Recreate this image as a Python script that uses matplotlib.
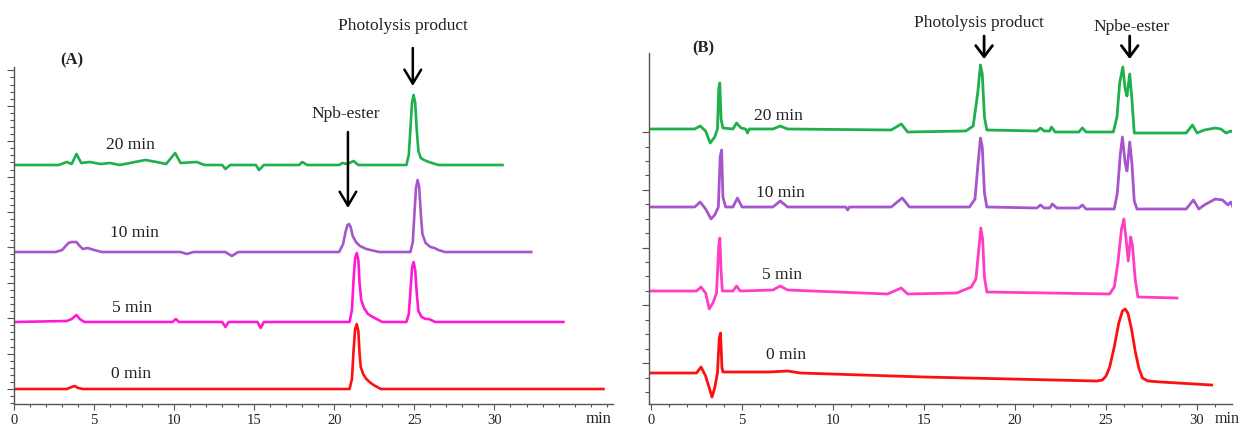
import numpy as np
import matplotlib
matplotlib.use('Agg')
import matplotlib.pyplot as plt
import matplotlib.ticker as mticker

plt.rcParams['font.family'] = ['Liberation Serif', 'DejaVu Serif']

# ---------------- panel A (Npb-ester) ----------------
a_labels = ['0 min', '5 min', '10 min', '20 min']
a_colors = ['#ff1010', '#ff1ad1', '#a656cc', '#1db04b']
a_offsets = [15, 82, 152, 239]

a0_time = [0, 3.3, 3.6, 3.8, 4.0, 4.3, 20.95, 21.1, 21.2, 21.3, 21.4, 21.5, 21.58, 21.65, 21.8,
           22.0, 22.2, 22.45, 22.9, 36.8]
a0_sig = [0, 0, 2, 3, 1, 0, 0, 10, 38, 60, 65, 58, 35, 22, 15, 10, 7, 4, 0, 0]

a5_time = [0, 3.3, 3.6, 3.9, 4.1, 4.4, 9.9, 10.1, 10.3, 13.0, 13.2, 13.4, 15.2, 15.4, 15.6,
           20.95, 21.1, 21.2, 21.3, 21.4, 21.5, 21.58, 21.68, 21.85, 22.1, 22.4, 23.0,
           24.5, 24.65, 24.75, 24.85, 24.95, 25.05, 25.15, 25.25, 25.45, 25.7, 25.9, 26.3, 34.3]
a5_sig = [0, 1, 3, 7, 3, 0, 0, 3, 0, 0, -5, 0, 0, -6, 0,
          0, 12, 42, 64, 69, 62, 38, 22, 14, 8, 5, 0,
          0, 8, 30, 54, 60, 52, 28, 11, 5, 3, 3, 0, 0]

a10_time = [0, 2.6, 3.0, 3.4, 3.6, 3.9, 4.1, 4.3, 4.6, 5.0, 5.5, 10.4, 10.8, 11.2, 13.2, 13.6, 14.0,
            20.3, 20.55, 20.7, 20.82, 20.92, 21.02, 21.15, 21.35, 21.6, 22.0, 22.8,
            24.75, 24.9, 25.0, 25.1, 25.2, 25.3, 25.4, 25.5, 25.7, 26.0, 26.25, 26.5, 26.9, 32.3]
a10_sig = [0, 0, 2, 9, 10, 10, 6, 3, 4, 2, 0, 0, -2, 0, 0, -4, 0,
           0, 8, 20, 27, 28, 25, 16, 10, 6, 3, 0,
           0, 10, 38, 64, 72, 65, 38, 18, 9, 5, 4, 2, 0, 0]

a20_time = [0, 2.8, 3.3, 3.6, 3.9, 4.2, 4.75, 5.4, 6.0, 6.6, 8.2, 8.9, 9.5, 10.06, 10.4, 11.4, 11.9,
            13.0, 13.2, 13.5, 15.1, 15.3, 15.6, 17.8, 18.0, 18.3, 20.3, 20.5, 20.8, 21.2, 21.5,
            24.5, 24.65, 24.75, 24.85, 24.95, 25.05, 25.15, 25.25, 25.4, 25.6, 25.9, 26.5, 30.5]
a20_sig = [0, 0, 3, 1, 11, 2, 3, 1, 2, 0, 5, 3, 1, 12, 2, 3, 0,
           0, -4, 0, 0, -5, 0, 0, 3, 0, 0, 2, 1, 4, 0,
           0, 10, 36, 62, 70, 62, 34, 14, 7, 5, 3, 0, 0]

# ---------------- panel B (Npbe-ester) ----------------
b_labels = ['0 min', '5 min', '10 min', '20 min']
b_colors = ['#ff1010', '#ff3cc4', '#a656cc', '#1db04b']
b_offsets = [31, 113, 197, 275]

b0_time = [0, 2.5, 2.75, 3.0, 3.2, 3.35, 3.5, 3.65, 3.75, 3.82, 3.9, 3.95, 4.3, 6.5, 7.5, 8.2, 15.0,
           24.5, 24.8, 25.0, 25.2, 25.45, 25.7, 25.9, 26.05, 26.2, 26.4, 26.6, 26.8, 27.0, 27.3, 28.0, 30.8]
b0_sig = [0, 0, 6, -3, -15, -24, -15, 0, 35, 40, 5, 1, 1, 1, 2, 0, -4,
          -8, -7, -3, 6, 26, 50, 62, 64, 60, 44, 22, 5, -5, -8, -9, -12]

b5_time = [0, 2.5, 2.75, 3.0, 3.2, 3.4, 3.6, 3.72, 3.78, 3.85, 3.92, 4.5, 4.7, 4.9, 6.7, 7.1, 7.5,
           13.0, 13.75, 14.1, 16.8, 17.6, 17.85, 18.0, 18.12, 18.22, 18.32, 18.45,
           25.2, 25.45, 25.65, 25.85, 25.98, 26.1, 26.22, 26.35, 26.45, 26.6, 26.75, 28.9]
b5_sig = [0, 0, 4, -2, -18, -12, -2, 45, 53, 20, 0, 0, 5, 0, 1, 5, 1,
          -3, 3, -3, -2, 4, 12, 40, 63, 52, 14, -1,
          -3, 4, 28, 62, 72, 52, 30, 54, 46, 12, -6, -7]

b10_time = [0, 2.4, 2.7, 3.0, 3.3, 3.5, 3.7, 3.8, 3.88, 3.95, 4.1, 4.5, 4.75, 5.0, 6.7, 7.1, 7.5,
            10.7, 10.8, 10.9, 13.2, 13.8, 14.2, 17.5, 17.8, 17.95, 18.1, 18.2, 18.32, 18.45,
            21.2, 21.4, 21.6, 21.9, 22.05, 22.3, 23.5, 23.7, 23.9,
            25.45, 25.62, 25.78, 25.9, 26.05, 26.15, 26.3, 26.42, 26.55, 26.7,
            29.4, 29.8, 30.1, 30.4, 31.0, 31.4, 31.7, 31.85, 32.1]
b10_sig = [0, 0, 5, -2, -12, -8, 0, 50, 57, 10, 0, 0, 9, 0, 0, 6, 0,
           0, -3, 0, 0, 9, 0, 0, 8, 40, 69, 60, 14, 0,
           -1, 2, -1, -1, 3, -1, -1, 2, -2,
           -2, 14, 52, 70, 44, 36, 65, 44, 6, -2,
           -2, 7, -2, 2, 8, 7, 2, 5, -5]

b20_time = [0, 2.4, 2.7, 3.0, 3.25, 3.5, 3.65, 3.72, 3.78, 3.85, 3.95, 4.5, 4.7, 4.95, 5.2, 5.3, 5.4,
            6.7, 7.1, 7.5, 13.2, 13.75, 14.1, 17.3, 17.7, 17.95, 18.1, 18.2, 18.32, 18.45,
            21.2, 21.4, 21.6, 21.9, 22.0, 22.2, 23.5, 23.7, 23.9,
            25.4, 25.6, 25.75, 25.92, 26.05, 26.15, 26.3, 26.42, 26.55,
            29.4, 29.75, 30.0, 30.4, 31.0, 31.3, 31.6, 31.85, 32.1]
b20_sig = [0, 0, 3, -2, -14, -8, 0, 40, 46, 10, 1, 0, 6, 1, 0, -4, 0,
           0, 3, 0, -1, 5, -3, -2, 3, 36, 64, 55, 12, -1,
           -2, 1, -2, -2, 2, -3, -3, 1, -3,
           -3, 12, 46, 62, 40, 33, 55, 30, -4,
           -4, 4, -4, -1, 1, 0, -4, -2, -4]

a_traces = [(a0_time, a0_sig), (a5_time, a5_sig), (a10_time, a10_sig), (a20_time, a20_sig)]
b_traces = [(b0_time, b0_sig), (b5_time, b5_sig), (b10_time, b10_sig), (b20_time, b20_sig)]


def style_axes(ax, ymax):
    ax.set_ylim(0, ymax)
    for s in ['top', 'right']:
        ax.spines[s].set_visible(False)
    for s in ['left', 'bottom']:
        ax.spines[s].set_color('#555555')
        ax.spines[s].set_linewidth(1.0)
    ax.tick_params(axis='x', which='major', direction='out', length=4, width=0.8,
                   color='#555555', labelsize=10.5, labelcolor='#222222', pad=3)
    ax.tick_params(axis='x', which='minor', direction='out', length=2.5, width=0.8, color='#555555')
    ax.tick_params(axis='y', which='both', direction='out', color='#555555', labelleft=False, width=0.8)
    ax.tick_params(axis='y', which='major', length=5)
    ax.tick_params(axis='y', which='minor', length=3)
    ax.set_facecolor('none')


W, H = 1243, 428
fig = plt.figure(figsize=(W / 100, H / 100), dpi=100)

# panel A
axA = fig.add_axes([14 / W, 24 / H, 599 / W, 337 / H])
for (t, s), off, c in zip(a_traces, a_offsets, a_colors):
    axA.plot(t, np.array(s) + off, color=c, lw=1.9, solid_joinstyle='round')
axA.set_xlim(0, 37.4)
style_axes(axA, 337)
axA.set_xticks([0, 5, 10, 15, 20, 25, 30])
axA.xaxis.set_minor_locator(mticker.FixedLocator(np.arange(0, 38, 1)))
axA.yaxis.set_major_locator(mticker.FixedLocator(np.arange(15, 337, 35.4)))
axA.yaxis.set_minor_locator(mticker.FixedLocator(np.arange(0.84, 337, 7.08)))

for lab, x, y in zip(a_labels, [7.3, 7.4, 7.5, 7.25], [30, 96, 171, 259]):
    axA.text(x, y, lab, ha='center', va='center', fontsize=12.5, color='#222222')
axA.text(3.6, 344, '(A)', ha='center', va='center', fontsize=12, fontweight='bold',
         color='#222222', clip_on=False)
axA.text(24.3, 378, 'Photolysis product', ha='center', va='center', fontsize=12.5,
         color='#222222', clip_on=False)
axA.text(20.7, 290, 'Npb-ester', ha='center', va='center', fontsize=12.5, color='#222222')
axA.text(36.5, -15, 'min', ha='center', va='center', fontsize=12, color='#222222', clip_on=False)

arrow_kw = dict(arrowstyle='->,head_length=0.5,head_width=0.3', lw=1.8, color='black',
                mutation_scale=20, shrinkA=0, shrinkB=0)
axA.annotate('', xy=(20.85, 196), xytext=(20.85, 272), arrowprops=arrow_kw, annotation_clip=False)
axA.annotate('', xy=(24.9, 318), xytext=(24.9, 356), arrowprops=arrow_kw, annotation_clip=False)

# panel B
axB = fig.add_axes([649 / W, 24 / H, 583 / W, 351 / H])
for (t, s), off, c in zip(b_traces, b_offsets, b_colors):
    axB.plot(t, np.array(s) + off, color=c, lw=2.0, solid_joinstyle='round')
axB.set_xlim(-0.11, 31.92)
style_axes(axB, 351)
axB.set_xticks([0, 5, 10, 15, 20, 25, 30])
axB.xaxis.set_minor_locator(mticker.FixedLocator(np.arange(0, 32, 1)))
axB.yaxis.set_major_locator(mticker.FixedLocator(np.arange(41, 280, 57.75)))
axB.yaxis.set_minor_locator(mticker.FixedLocator(np.arange(12, 280, 14.44)))

for lab, x, y in zip(b_labels, [7.4, 7.2, 7.1, 7.0], [49, 129, 211, 288]):
    axB.text(x, y, lab, ha='center', va='center', fontsize=12.5, color='#222222')
axB.text(2.9, 356, '(B)', ha='center', va='center', fontsize=12, fontweight='bold',
         color='#222222', clip_on=False)
axB.text(18.0, 381, 'Photolysis product', ha='center', va='center', fontsize=12.5,
         color='#222222', clip_on=False)
axB.text(26.4, 377, 'Npbe-ester', ha='center', va='center', fontsize=12.5,
         color='#222222', clip_on=False)
axB.text(32.35, -15, 'min', ha='right', va='center', fontsize=11.5, color='#222222', clip_on=False)

arrow_b = dict(arrowstyle='->,head_length=0.4,head_width=0.3', lw=2.0, color='black',
               mutation_scale=20, shrinkA=0, shrinkB=0)
axB.annotate('', xy=(18.3, 345), xytext=(18.3, 368), arrowprops=arrow_b, annotation_clip=False)
axB.annotate('', xy=(26.3, 345), xytext=(26.3, 368), arrowprops=arrow_b, annotation_clip=False)

fig.savefig('out.png', dpi=100)
